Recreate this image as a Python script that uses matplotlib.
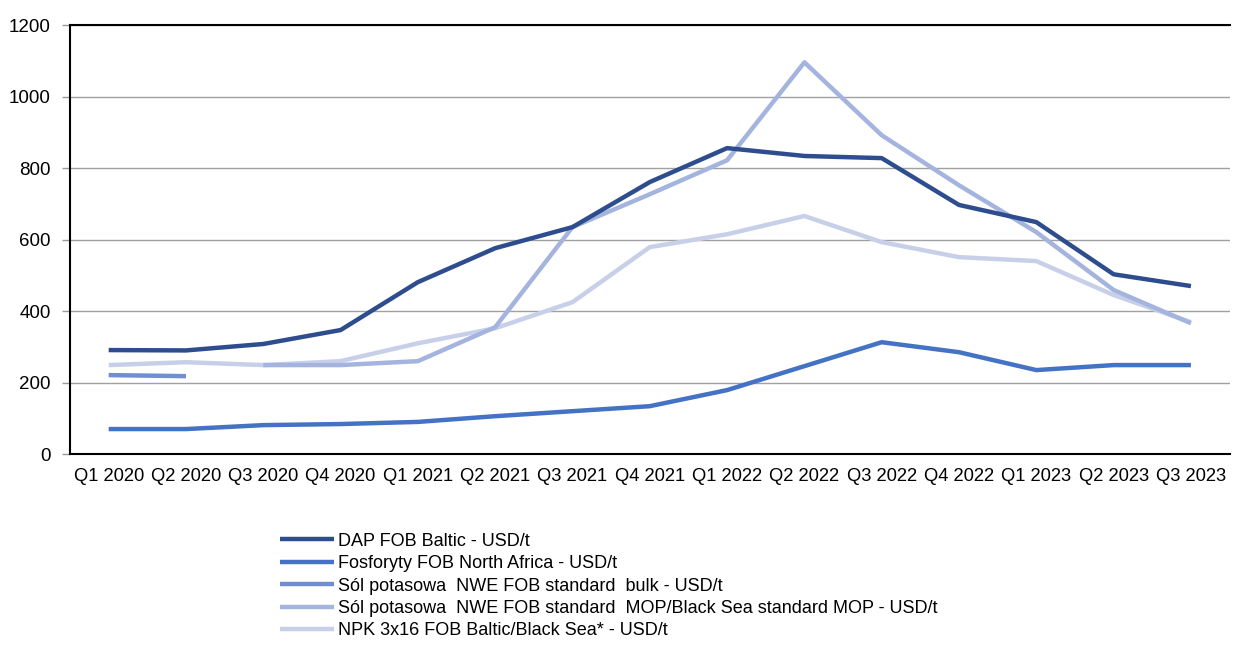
import numpy as np
import matplotlib.pyplot as plt

plt.rcParams['font.family'] = ['Liberation Sans', 'DejaVu Sans']

quarters = ['Q1 2020', 'Q2 2020', 'Q3 2020', 'Q4 2020', 'Q1 2021', 'Q2 2021', 'Q3 2021',
            'Q4 2021', 'Q1 2022', 'Q2 2022', 'Q3 2022', 'Q4 2022', 'Q1 2023', 'Q2 2023', 'Q3 2023']

dap = [291, 290, 308, 347, 481, 576, 635, 761, 856, 834, 828, 697, 649, 503, 470]
fosforyty = [70, 70, 81, 84, 90, 106, 120, 134, 179, 246, 313, 285, 235, 249, 249]
sol_bulk = [221, 218] + [np.nan] * 13
sol_mop = [np.nan, np.nan, 249, 249, 260, 355, 635, 727, 822, 1096, 892, 752, 621, 459, 366]
npk = [249, 257, 249, 260, 310, 352, 425, 579, 615, 666, 593, 551, 540, 445, 369]

labels = ['DAP FOB Baltic - USD/t',
          'Fosforyty FOB North Africa - USD/t',
          'Sól potasowa  NWE FOB standard  bulk - USD/t',
          'Sól potasowa  NWE FOB standard  MOP/Black Sea standard MOP - USD/t',
          'NPK 3x16 FOB Baltic/Black Sea* - USD/t']
colors = ['#2E4D8E', '#4472C4', '#6F8FD2', '#A4B4DE', '#C8D0E9']
series = [dap, fosforyty, sol_bulk, sol_mop, npk]

fig = plt.figure(figsize=(12.37, 6.45), dpi=100)
ax = fig.add_axes([0.0566, 0.296, 0.9374, 0.665])

x = np.arange(len(quarters))
# lightest first so the darker lines end up on top
handles = {}
for i in [4, 3, 2, 1, 0]:
    h, = ax.plot(x, series[i], color=colors[i], lw=3.2, label=labels[i], solid_capstyle='butt')
    handles[i] = h

ax.set_xlim(-0.5, 14.5)
ax.set_ylim(0, 1200)
ax.set_yticks(range(0, 1201, 200))
ax.set_xticks(x)
ax.set_xticklabels(quarters, fontsize=13.2)
ax.tick_params(axis='y', labelsize=13.5, length=6, color='#999999', width=1, pad=8)
ax.tick_params(axis='x', length=0, pad=10)
ax.grid(axis='y', color='#A0A0A0', lw=1)
ax.set_axisbelow(True)

for s in ['left', 'bottom', 'top']:
    ax.spines[s].set_color('black')
    ax.spines[s].set_linewidth(1.5)
ax.spines['right'].set_visible(False)

fig.legend([handles[i] for i in range(5)], labels, loc='upper left',
           bbox_to_anchor=(0.219, 0.188), frameon=False, fontsize=13,
           handlelength=3.0, handletextpad=0.2, labelspacing=0.3, borderpad=0)

fig.savefig('out.png', dpi=100)
